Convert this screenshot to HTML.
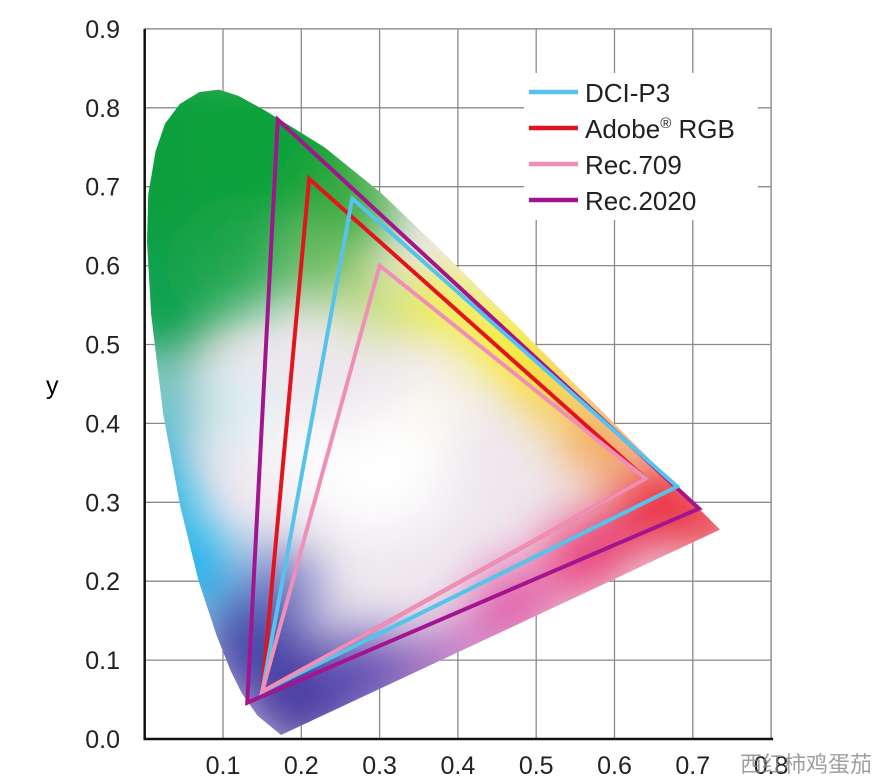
<!DOCTYPE html>
<html><head><meta charset="utf-8"><style>
html,body{margin:0;padding:0;background:#fff;}
svg{display:block;font-family:"Liberation Sans","Noto Sans CJK SC",sans-serif;}
</style></head><body>
<svg id="chart" width="879" height="782" viewBox="0 0 879 782" xmlns="http://www.w3.org/2000/svg">
<defs>
<filter id="blur" x="-50%" y="-50%" width="200%" height="200%"><feGaussianBlur stdDeviation="26"/></filter>
<clipPath id="locusClip"><path id="clipPath"/></clipPath>
</defs>
<g id="grid"></g>
<g clip-path="url(#locusClip)">
<rect x="100" y="40" width="700" height="720" fill="#eee8ee"/>
<g id="blobs" filter="url(#blur)"></g>
</g>
<g id="tris"></g>
<g id="axes"></g>
<g id="legend"></g>
<text x="46" y="394" font-size="25">y</text>
<text x="740" y="772" font-size="22" fill="#888" opacity="0.8">西红柿鸡蛋茄</text>
</svg>
<script>
const xTicks=[0.1,0.2,0.3,0.4,0.5,0.6,0.7,0.8];
const yTicks=[0.0,0.1,0.2,0.3,0.4,0.5,0.6,0.7,0.8,0.9];
const locusX=[0.1741,0.1440,0.1241,0.1096,0.0913,0.0687,0.0454,0.0235,0.0082,0.0030,0.0045,0.0139,0.0260,0.0450,0.0700,0.0950,0.1200,0.1547,0.2296,0.3016,0.3731,0.4441,0.5125,0.5752,0.6270,0.6915,0.7347];
const locusY=[0.0050,0.0297,0.0578,0.0868,0.1327,0.2007,0.2950,0.4127,0.5384,0.6300,0.6900,0.7450,0.7800,0.8050,0.8200,0.8230,0.8150,0.7960,0.7500,0.6923,0.6245,0.5547,0.4866,0.4242,0.3725,0.3083,0.2653];
const gamutNames=["Rec.2020","Adobe® RGB","DCI-P3","Rec.709"];
const gamutX=[[0.708,0.170,0.131],[0.64,0.21,0.15],[0.68,0.265,0.15],[0.64,0.30,0.15]];
const gamutY=[[0.292,0.785,0.046],[0.33,0.71,0.06],[0.32,0.685,0.06],[0.33,0.60,0.06]];
const gamutColors=["#a3158f","#e3141e","#55c3ea","#ef8fb8"];
const legendNames=["DCI-P3","Adobe","Rec.709","Rec.2020"];
const legendColors=["#55c3ea","#e3141e","#ef8fb8","#a3158f"];
const NS="http://www.w3.org/2000/svg";
const X0=144.7,XS=783,Y0=739,YS=789;
const sx=v=>X0+v*XS, sy=v=>Y0-v*YS;
function mk(t,a,p){const e=document.createElementNS(NS,t);for(const k in a)e.setAttribute(k,a[k]);p.appendChild(e);return e;}
const grid=document.getElementById('grid');
xTicks.forEach(v=>{const l=mk('line',{x1:sx(v),x2:sx(v),y1:sy(0.9),y2:sy(0),stroke:'#8a8a8a','stroke-width':1.3},grid);

});
yTicks.forEach(v=>{const l=mk('line',{x1:sx(0),x2:sx(0.8),y1:sy(v),y2:sy(v),stroke:'#8a8a8a','stroke-width':1.3},grid);

});
let d='';locusX.forEach((x,i)=>{d+=(i?'L':'M')+sx(x)+','+sy(locusY[i]);});d+='Z';
document.getElementById('clipPath').setAttribute('d',d);
const blobs=document.getElementById('blobs');
[[0.05,0.72,120,'#0a9f3c'],[0.17,0.76,90,'#0ea23a'],[0.27,0.68,45,'#3aaa3a'],[0.02,0.55,60,'#10a050'],[0.12,0.6,50,'#20a850'],[0.23,0.6,35,'#60b850'],[0.3,0.55,30,'#b8dc60'],
[0.0,0.32,50,'#10b0e0'],[0.06,0.22,45,'#18b0ec'],[0.03,0.42,35,'#40b8c0'],[0.12,0.42,35,'#d8f0f0'],
[0.14,0.12,55,'#4548a8'],[0.2,0.05,55,'#4a3aa0'],[0.28,0.08,45,'#5a48b0'],[0.18,0.2,35,'#6a70c0'],[0.36,0.09,35,'#9060b8'],
[0.38,0.55,35,'#f2f030'],[0.46,0.5,40,'#f8ee20'],[0.52,0.45,35,'#fcd020'],[0.58,0.38,35,'#f89a30'],[0.66,0.3,45,'#ec2a30'],[0.73,0.27,30,'#e82030'],
[0.56,0.23,40,'#e83070'],[0.47,0.17,40,'#e050a0'],[0.42,0.12,30,'#d070c0'],[0.62,0.27,30,'#e82850'],
[0.31,0.34,60,'#ffffff'],[0.27,0.3,35,'#ffffff'],[0.37,0.42,30,'#fffef0'],[0.2,0.36,35,'#ffffff']].forEach(b=>{mk('circle',{cx:sx(b[0]),cy:sy(b[1]),r:b[2],fill:b[3]},blobs);});
const tris=document.getElementById('tris');
gamutNames.forEach((n,i)=>{const pts=gamutX[i].map((x,j)=>sx(x)+','+sy(gamutY[i][j])).join(' ');
const p=mk('polygon',{points:pts,fill:'none',stroke:gamutColors[i],'stroke-width':4,'stroke-linejoin':'miter'},tris);

});
const axes=document.getElementById('axes');
mk('path',{d:`M${sx(0)},${sy(0.9)}H${sx(0.8)}V${sy(0)}`,fill:'none',stroke:'#999','stroke-width':1.5},axes);
mk('path',{d:`M${sx(0)},${sy(0.9)}V${sy(0)}H${sx(0.8)+2}`,fill:'none',stroke:'#111','stroke-width':2.5},axes);
yTicks.forEach(v=>{const t=mk('text',{x:120,y:sy(v)+9,'text-anchor':'end','font-size':25,fill:'#222'},axes);t.textContent=v.toFixed(1);

});
xTicks.forEach(v=>{const t=mk('text',{x:sx(v),y:774,'text-anchor':'middle','font-size':25,fill:'#222'},axes);t.textContent=v.toFixed(1);

});
const lg=document.getElementById('legend');
mk('rect',{x:524,y:73,width:234,height:147,fill:'#fff'},lg);
legendNames.forEach((n,i)=>{const y=92+i*36;
const l=mk('line',{x1:529,x2:578,y1:y,y2:y,stroke:legendColors[i],'stroke-width':4.5},lg);


const t=mk('text',{x:585,y:y+10,'font-size':26,fill:'#222'},lg);
if(n==='Adobe'){t.innerHTML='Adobe<tspan font-size="15" dy="-10">®</tspan><tspan dy="10"> RGB</tspan>';}else t.textContent=n;

});
</script>
</body></html>
